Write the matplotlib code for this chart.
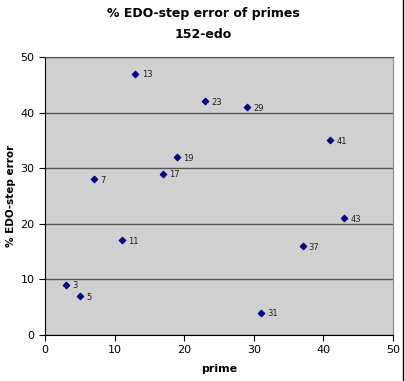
import matplotlib
matplotlib.use("Agg")
import matplotlib.pyplot as plt
from matplotlib.lines import Line2D

# prime numbers and their % EDO-step error in 152-edo
primes = [3, 5, 7, 11, 13, 17, 19, 23, 29, 31, 37, 41, 43]
errors = [9, 7, 28, 17, 47, 29, 32, 42, 41, 4, 16, 35, 21]
labels = ["3", "5", "7", "11", "13", "17", "19", "23", "29", "31", "37", "41", "43"]

fig = plt.figure(figsize=(4.06, 3.81), dpi=100)
ax = fig.add_axes([45 / 406, 46 / 381, 348 / 406, 278 / 381])
ax.set_facecolor("#d0d0d0")

ax.scatter(primes, errors, marker="D", s=10, color="#000080", zorder=3)
for x, y, lab in zip(primes, errors, labels):
    ax.annotate(lab, (x, y), xytext=(4.5, -2.5), textcoords="offset points",
                fontsize=6, color="#222222")

ax.set_xlim(0, 50)
ax.set_ylim(0, 50)
ax.set_xticks(range(0, 51, 10))
ax.set_yticks(range(0, 51, 10))
ax.yaxis.grid(True, color="#555555", linewidth=1)
ax.set_axisbelow(True)
ax.tick_params(direction="out", length=4, labelsize=8)

ax.spines["left"].set_color("black")
ax.spines["bottom"].set_color("black")
ax.spines["top"].set_color("#555555")
ax.spines["right"].set_color("#888888")

ax.set_xlabel("prime", fontsize=8, fontweight="bold", labelpad=6)
ax.set_ylabel("% EDO-step error", fontsize=7.5, fontweight="bold", labelpad=3)

fig.text(0.5, 1 - 14 / 381, "% EDO-step error of primes", ha="center", va="center",
         fontsize=9, fontweight="bold")
fig.text(0.5, 1 - 35 / 381, "152-edo", ha="center", va="center",
         fontsize=9, fontweight="bold")

# thin frame line at the right edge
fig.add_artist(Line2D([403 / 406, 403 / 406], [0, 1], color="black", linewidth=1,
                      transform=fig.transFigure))

fig.savefig("out.png", dpi=100)
